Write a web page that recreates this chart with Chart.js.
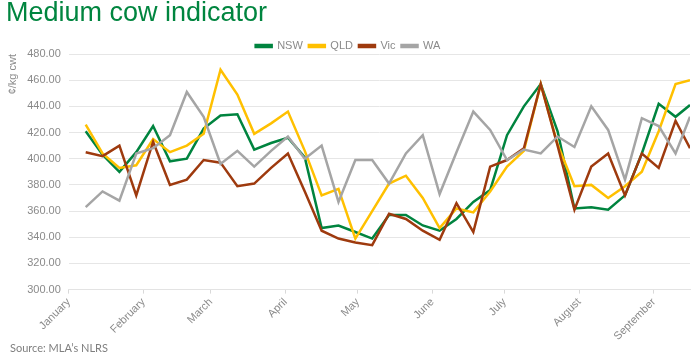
<!DOCTYPE html>
<html lang="en">

<head>
    <meta charset="UTF-8">
    <title>Medium cow indicator</title>
    <script src="https://cdn.jsdelivr.net/npm/chart.js@4/dist/chart.umd.min.js"></script>
    <style>
        body { margin: 0; background: #fff; }
        .wrap { position: relative; width: 700px; height: 359px; }
        .source {
            position: absolute; left: 10px; top: 341px;
            font: 11px Lato, sans-serif; color: #7f7f7f;
        }
    </style>
</head>

<body>
    <div class="wrap">
        <canvas id="cowChart" width="700" height="359"></canvas>
        <div class="source">Source: MLA’s NLRS</div>
    </div>
    <script>
        // week ending, as day of the year
        let days = [7, 14, 21, 28, 35, 42, 49, 56, 63, 70, 77, 84, 91, 98, 105, 112, 119, 126, 133,
            140, 147, 154, 161, 168, 175, 182, 189, 196, 203, 210, 217, 224, 231, 238, 245, 252, 258];
        let monthStarts = [0, 31, 59, 90, 120, 151, 181, 212, 243];
        let monthNames = ['January', 'February', 'March', 'April', 'May', 'June', 'July', 'August', 'September'];

        let nswData = [421, 403, 390, 405, 425, 398, 400, 423, 433, 434, 407, 412, 416, 401, 347, 349, 344, 339, 357,
            357, 349, 345, 354, 367, 376, 418, 440, 457, 421, 362, 363, 361, 372, 404, 442, 432, 441];
        let qldData = [426, 404, 393, 395, 415, 405, 410, 419, 468, 449, 419, 427, 436, 406, 372, 377, 339, 360, 381,
            387, 370, 347, 362, 359, 375, 394, 406, 457, 411, 379, 380, 370, 379, 390, 421, 457, 460];
        let vicData = [405, 402, 410, 372, 413, 380, 384, 399, 397, 379, 381, 393, 404, 375, 345, 339, 336, 334, 358,
            354, 345, 338, 366, 344, 394, 399, 408, 457, 410, 361, 394, 404, 372, 404, 393, 429, 408];
        let waData = [363, 375, 368, 404, 408, 418, 451, 432, 396, 406, 394, 406, 417, 400, 410, 367, 399, 399, 381,
            404, 418, 373, 405, 436, 422, 399, 407, 404, 417, 409, 440, 422, 384, 431, 425, 404, 432];

        function points(values) {
            return values.map(function (v, i) { return { x: days[i], y: v }; });
        }

        function line(label, values, color, order) {
            return {
                label: label,
                data: points(values),
                borderColor: color,
                backgroundColor: color,
                borderWidth: 2.5,
                pointRadius: 0,
                tension: 0,
                order: order
            };
        }

        // legend box is a bit tall by default, pull the plot up under it
        var tightLegend = {
            id: 'tightLegend',
            afterInit: function (chart) {
                var fit = chart.legend.fit;
                chart.legend.fit = function () {
                    fit.call(this);
                    this.height -= 7.5;
                };
            }
        };

        var grey = '#8a8a8a';

        new Chart(document.getElementById('cowChart').getContext('2d'), {
            type: 'line',
            data: {
                datasets: [
                    line('NSW', nswData, '#00843f', 4),
                    line('QLD', qldData, '#ffc000', 3),
                    line('Vic', vicData, '#9e3a0e', 2),
                    line('WA', waData, '#a5a5a5', 1)
                ]
            },
            plugins: [tightLegend],
            options: {
                responsive: false,
                animation: false,
                layout: { padding: { left: 6, right: 10, top: 0, bottom: 14 } },
                plugins: {
                    title: {
                        display: true,
                        text: 'Medium cow indicator',
                        align: 'start',
                        color: '#00853f',
                        font: { family: 'Liberation Sans', size: 27, weight: 'normal', lineHeight: 1 },
                        padding: { top: 0, bottom: 7.5 }
                    },
                    legend: {
                        reverse: true,
                        labels: {
                            boxWidth: 16,
                            boxHeight: 2,
                            padding: 6,
                            color: grey,
                            font: { family: 'Liberation Sans', size: 11 }
                        }
                    },
                    tooltip: { enabled: false }
                },
                scales: {
                    x: {
                        type: 'linear',
                        min: 0,
                        max: 258,
                        afterBuildTicks: function (axis) {
                            axis.ticks = monthStarts.map(function (d) { return { value: d }; });
                        },
                        ticks: {
                            autoSkip: false,
                            maxRotation: 45,
                            minRotation: 45,
                            padding: 2,
                            color: grey,
                            font: { family: 'Liberation Sans', size: 11 },
                            callback: function (value) {
                                return monthNames[monthStarts.indexOf(value)];
                            }
                        },
                        grid: { drawOnChartArea: false, tickLength: 4, color: '#d9d9d9' },
                        border: { color: '#e3e3e3' }
                    },
                    y: {
                        min: 300,
                        max: 480,
                        ticks: {
                            stepSize: 20,
                            padding: 8,
                            color: grey,
                            font: { family: 'Liberation Sans', size: 11 },
                            callback: function (value) { return value.toFixed(2); }
                        },
                        grid: { color: '#e6e6e6', drawTicks: false },
                        border: { display: false },
                        title: {
                            display: true,
                            text: '¢/kg cwt',
                            align: 'end',
                            color: grey,
                            padding: 0,
                            font: { family: 'Liberation Sans', size: 11 }
                        }
                    }
                }
            }
        });
    </script>
</body>

</html>
